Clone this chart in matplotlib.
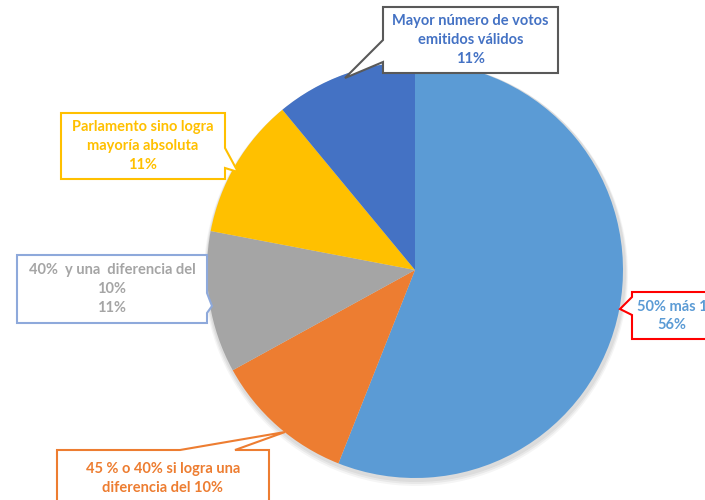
import matplotlib.pyplot as plt
from matplotlib.patches import Polygon, Circle

# data
labels = ["50% más 1", "45 % o 40% si logra una\ndiferencia del 10%",
          "40%  y una  diferencia del\n10%", "Parlamento sino logra\nmayoría absoluta",
          "Mayor número de votos\nemitidos válidos"]
values = [56, 11, 11, 11, 11]
colors = ["#5B9BD5", "#ED7D31", "#A5A5A5", "#FFC000", "#4472C4"]
text_colors = ["#5B9BD5", "#ED7D31", "#A5A5A5", "#FFC000", "#4472C4"]
border_colors = ["#FF0000", "#ED7D31", "#8EA9DB", "#FFC000", "#595959"]

W, H = 705, 500
fig = plt.figure(figsize=(W / 100, H / 100), dpi=100)
ax = fig.add_axes([0, 0, 1, 1])
ax.set_xlim(0, W)
ax.set_ylim(0, H)
ax.set_aspect("equal")
ax.axis("off")

cx, cy, r = 415, H - 270, 208

# soft shadow
for i, a in enumerate([0.05, 0.05, 0.04]):
    ax.add_patch(Circle((cx + 1, cy - 2 - i), r + 2 + i, color="black", alpha=a, lw=0))

ax.pie(values, colors=colors, startangle=90, counterclock=False,
       center=(cx, cy), radius=r, wedgeprops=dict(lw=0), frame=True)
ax.set_xlim(0, W)
ax.set_ylim(0, H)
ax.axis("off")


def yy(v):
    return H - v


def callout(box, tip, side, b0, b1, ec):
    x0, y0, x1, y1 = box
    if side == "left":
        pts = [(x0, y0), (x1, y0), (x1, y1), (x0, y1), (x0, b1), tip, (x0, b0)]
    elif side == "right":
        pts = [(x0, y0), (x1, y0), (x1, b0), tip, (x1, b1), (x1, y1), (x0, y1)]
    else:  # top
        pts = [(x0, y0), (b0, y0), tip, (b1, y0), (x1, y0), (x1, y1), (x0, y1)]
    pts = [(px, yy(py)) for px, py in pts]
    ax.add_patch(Polygon(pts, closed=True, fc="white", ec=ec, lw=1.5, zorder=5))


# callout geometry in image pixel coords (y down)
boxes = [(632, 292, 760, 339), (57, 450, 269, 540), (17, 255, 207, 323),
         (61, 113, 225, 179), (383, 7, 558, 73)]
tips = [(620, 309), (285, 432), (212, 306), (238, 172), (345, 78)]
sides = ["left", "top", "right", "right", "left"]
bases = [(297, 315), (180, 235), (293, 313), (148, 168), (40, 62)]

for i in range(len(values)):
    callout(boxes[i], tips[i], sides[i], bases[i][0], bases[i][1], border_colors[i])
    x0, y0, x1, y1 = boxes[i]
    txt = labels[i] + "\n" + str(values[i]) + "%"
    if i == 0:
        tx, ty = 672, 316
    elif i == 1:
        tx, ty = 163, 488
    else:
        tx, ty = (x0 + x1) / 2, (y0 + y1) / 2
    ax.text(tx, yy(ty), txt, ha="center", va="center", color=text_colors[i],
            fontsize=10.5, fontweight="bold", family="Lato", linespacing=1.45,
            zorder=6)

fig.savefig("out.png", dpi=100)
